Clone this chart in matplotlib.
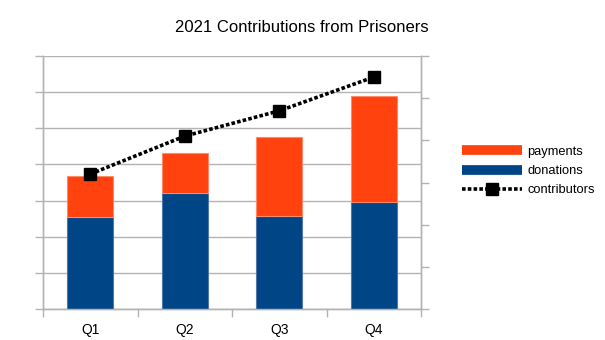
import matplotlib
matplotlib.use("Agg")
import matplotlib.pyplot as plt
from matplotlib.lines import Line2D

plt.rcParams["font.family"] = ["Liberation Sans", "DejaVu Sans"]

quarters = ["Q1", "Q2", "Q3", "Q4"]
donations = [2540, 3220, 2580, 2970]
payments = [1130, 1090, 2170, 2920]
contributors = [32, 41, 47, 55]

blue = "#004586"
orange = "#ff420e"
grid = "#b3b3b3"

fig = plt.figure(figsize=(6.05, 3.4), dpi=100)
ax = fig.add_axes([43 / 605, 31 / 340, 378 / 605, 253 / 340])
ax2 = ax.twinx()

x = list(range(len(quarters)))
ax.bar(x, donations, width=0.49, color=blue, edgecolor="#4f77a8", linewidth=0.8, zorder=3)
ax.bar(x, payments, width=0.49, bottom=donations, color=orange, edgecolor="#ff8a6a",
       linewidth=0.8, zorder=3)
ax2.plot(x, contributors, color="black", linestyle=(0, (1, 0.6)), linewidth=2.6,
         marker="s", markersize=8.5, zorder=4)

ax.set_xlim(-0.5, 3.5)
ax.set_ylim(0, 7000)
ax2.set_ylim(0, 60)
ax.set_yticks(range(0, 7001, 1000))
ax2.set_yticks(range(0, 61, 10))
ax.set_yticklabels([])
ax2.set_yticklabels([])
ax.yaxis.grid(True, color=grid, linewidth=1, zorder=0)
ax.set_axisbelow(True)

ax.set_xticks(x)
ax.set_xticklabels(quarters, fontsize=10)
ax.set_xticks([-0.5, 0.5, 1.5, 2.5, 3.5], minor=True)
ax.tick_params(axis="x", which="major", length=0, pad=10)
ax.tick_params(axis="x", which="minor", length=6, color=grid, width=1)
ax.tick_params(axis="y", length=6, color=grid, width=1)
ax2.tick_params(axis="y", length=6, color=grid, width=1)

for a in (ax, ax2):
    a.spines["top"].set_visible(False)
    for s in ("left", "right", "bottom"):
        a.spines[s].set_color(grid)
        a.spines[s].set_linewidth(1)

fig.text(302 / 605, 1 - 28 / 340, "2021 Contributions from Prisoners", ha="center",
         va="center", fontsize=12)

handles = [
    Line2D([0], [0], color=orange, linewidth=7, solid_capstyle="butt"),
    Line2D([0], [0], color=blue, linewidth=7, solid_capstyle="butt"),
    Line2D([0], [0], color="black", linestyle=(0, (1, 0.6)), linewidth=2.6,
           marker="s", markersize=8),
]
fig.legend(handles, ["payments", "donations", "contributors"], loc="center left",
           bbox_to_anchor=(450 / 605, 1 - 171 / 340), frameon=False, fontsize=9.3,
           handlelength=4.7, labelspacing=0.55, handletextpad=0.4)

fig.savefig("out.png", dpi=100)
